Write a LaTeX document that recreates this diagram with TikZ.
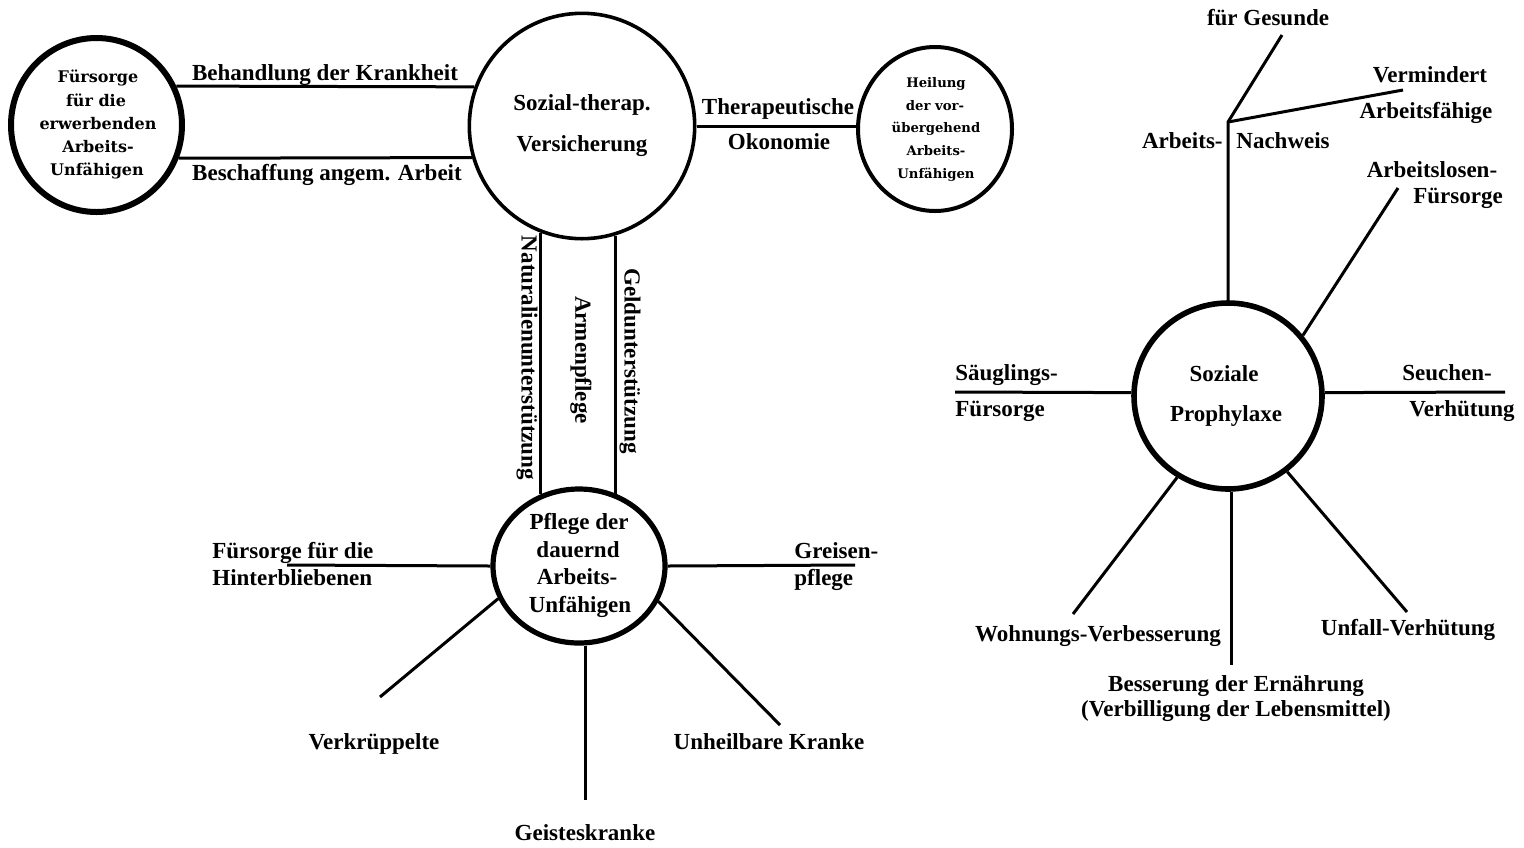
\documentclass[tikz,border=0pt]{standalone}
\usepackage{fontspec}
\setmainfont{Liberation Serif}
\newfontfamily\circfont{DejaVu Serif}
\usetikzlibrary{shapes.geometric}
\begin{document}
\begin{tikzpicture}[x=0.5pt,y=-0.5pt,
  lab/.style={font=\bfseries\fontsize{11.5}{13}\selectfont, inner sep=0pt},
  small/.style={font=\circfont\bfseries\fontsize{8}{9}\selectfont, inner sep=0pt},
  smallh/.style={font=\circfont\bfseries\fontsize{6.6}{8}\selectfont, inner sep=0pt},
  ring/.style={draw, ellipse, inner sep=0pt},
  conn/.style={line width=1.5pt}]
\useasboundingbox (0,0) rectangle (1524,847);
\fill[white] (0,0) rectangle (1524,847);

% circles
\node[ring, line width=3pt, minimum width=85.5pt, minimum height=87pt] (L) at (96.5,125) {};
\node[ring, line width=1.8pt, minimum width=112.7pt, minimum height=112.7pt] (S) at (582,126) {};
\node[ring, line width=2pt, minimum width=77pt, minimum height=82pt] (H) at (935,129) {};
\node[ring, line width=2.6pt, minimum width=86pt, minimum height=77pt] (P) at (579,566) {};
\node[ring, line width=2.8pt, minimum width=94pt, minimum height=93pt] (Z) at (1228,396) {};

% upper connectors
\draw[conn] (L.26) -- (S.160);
\draw[conn] (L.-22) -- (S.196);
\draw[conn] (S.east) -- (S.east -| H.west);
\draw[conn] (S.249) -- (S.249 |- P.118);
\draw[conn] (S.287) -- (S.287 |- P.63);

% Pflege connectors
\coordinate (fh) at (287,565);
\coordinate (gr) at (855,565);
\coordinate (vk) at (380,697);
\coordinate (gk) at (585,800);
\coordinate (uk) at (780,725);
\draw[conn] (fh) -- (P.west);
\draw[conn] (P.east) -- (gr);
\draw[conn] (P.202) -- (vk);
\draw[conn] (P.south -| gk) -- (gk);
\draw[conn] (P.-24) -- (uk);

% Prophylaxe connectors
\coordinate (J) at (1228,122);
\coordinate (fg) at (1282,35);
\coordinate (vm) at (1403,90);
\coordinate (al) at (1398,188);
\coordinate (sl) at (955,392);
\coordinate (sr) at (1505,392);
\coordinate (wv) at (1073,614);
\coordinate (be) at (1231,665);
\coordinate (uv) at (1407,612);
\draw[conn] (Z.north -| J) -- (J) -- (fg);
\draw[conn] (J) -- (vm);
\draw[conn] (Z.39) -- (al);
\draw[conn] (sl) -- (Z.178);
\draw[conn] (Z.2) -- (sr);
\draw[conn] (Z.238) -- (wv);
\draw[conn] (Z.south -| be) -- (be);
\draw[conn] (Z.-52) -- (uv);

% texts, upper part
\node[lab, anchor=base] (t1) at (325,80) {Behandlung der Krankheit};
\node[lab, anchor=base] (t2) at (327,180) {Beschaffung angem. Arbeit};
\node[lab, anchor=base] (t3) at (582,110) {Sozial-therap.};
\node[lab, anchor=base] (t4) at (582,151) {Versicherung};
\node[lab, anchor=base] (t5) at (778,114) {Therapeutische};
\node[lab, anchor=base] (t6) at (779,149) {Okonomie};

\node[small, anchor=base] (l1) at (98,82) {Fürsorge};
\node[small, anchor=base] (l2) at (96,106) {für die};
\node[small, anchor=base] (l3) at (98,129) {erwerbenden};
\node[small, anchor=base] (l4) at (98,152) {Arbeits-};
\node[small, anchor=base] (l5) at (97,175) {Unfähigen};

\node[smallh, anchor=base] (h1) at (936,87) {Heilung};
\node[smallh, anchor=base] (h2) at (935,110) {der vor-};
\node[smallh, anchor=base] (h3) at (936,132) {übergehend};
\node[smallh, anchor=base] (h4) at (936,155) {Arbeits-};
\node[smallh, anchor=base] (h5) at (936,178) {Unfähigen};

\node[lab, rotate=-90] (n1) at (527,358) {Naturalienunterstützung};
\node[lab, rotate=-90] (n2) at (581,360) {Armenpflege};
\node[lab, rotate=-90] (n3) at (630,361) {Geldunterstützung};

% Pflege texts
\node[lab, anchor=base] (p1) at (579,529) {Pflege der};
\node[lab, anchor=base] (p2) at (578,557) {dauernd};
\node[lab, anchor=base] (p3) at (577,584) {Arbeits-};
\node[lab, anchor=base] (p4) at (580,612) {Unfähigen};
\node[lab, anchor=base west] (a1) at (212,558) {Fürsorge für die};
\node[lab, anchor=base west] (a2) at (212,585) {Hinterbliebenen};
\node[lab, anchor=base west] (a3) at (794,558) {Greisen-};
\node[lab, anchor=base west] (a4) at (794,585) {pflege};
\node[lab, anchor=base] (a5) at (374,749) {Verkrüppelte};
\node[lab, anchor=base] (a6) at (585,840) {Geisteskranke};
\node[lab, anchor=base] (a7) at (769,749) {Unheilbare Kranke};

% Prophylaxe texts
\node[lab, anchor=base] (z1) at (1224,381) {Soziale};
\node[lab, anchor=base] (z2) at (1226,421) {Prophylaxe};
\node[lab, anchor=base] (r1) at (1268,25) {für Gesunde};
\node[lab, anchor=base] (r2) at (1430,82) {Vermindert};
\node[lab, anchor=base] (r3) at (1426,118) {Arbeitsfähige};
\node[lab, anchor=base east] (r4) at (1223,148) {Arbeits-};
\node[lab, anchor=base west] (r5) at (1236,148) {Nachweis};
\node[lab, anchor=base] (r6) at (1432,177) {Arbeitslosen-};
\node[lab, anchor=base] (r7) at (1458,203) {Fürsorge};
\node[lab, anchor=base west] (r8) at (955,380) {Säuglings-};
\node[lab, anchor=base west] (r9) at (955,416) {Fürsorge};
\node[lab, anchor=base] (r10) at (1447,380) {Seuchen-};
\node[lab, anchor=base] (r11) at (1462,416) {Verhütung};
\node[lab, anchor=base] (r12) at (1098,641) {Wohnungs-Verbesserung};
\node[lab, anchor=base] (r13) at (1236,691) {Besserung der Ernährung};
\node[lab, anchor=base] (r14) at (1236,716) {(Verbilligung der Lebensmittel)};
\node[lab, anchor=base] (r15) at (1408,635) {Unfall-Verhütung};
\end{tikzpicture}
\end{document}
